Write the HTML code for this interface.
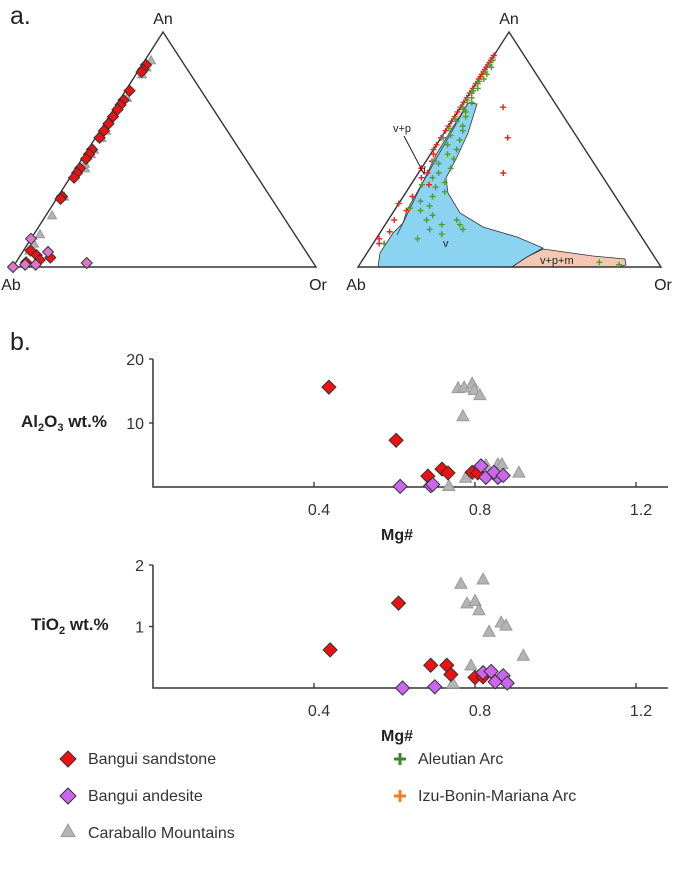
<!DOCTYPE html>
<html><head><meta charset="utf-8"><style>
html,body{margin:0;padding:0;background:#fff;}
svg{display:block;font-family:"Liberation Sans",Arial,sans-serif;}
</style></head><body>
<svg id="fig" width="685" height="873" viewBox="0 0 685 873">
<g id="ternA"></g>
<g id="ternB"></g>
<g id="sc1"></g>
<g id="sc2"></g>
<text x="10" y="24" font-size="25" fill="#222">a.</text>
<text x="10" y="350" font-size="25" fill="#222">b.</text>
<text x="21" y="427" font-size="17" font-weight="bold" fill="#222">Al<tspan font-size="11" dy="4">2</tspan><tspan dy="-4">O</tspan><tspan font-size="11" dy="4">3</tspan><tspan dy="-4"> wt.%</tspan></text>
<text x="31" y="630" font-size="17" font-weight="bold" fill="#222">TiO<tspan font-size="11" dy="4">2</tspan><tspan dy="-4"> wt.%</tspan></text>
<g id="legend"></g>
</svg>
<script>
// ---------- data ----------
// Left ternary (fractions An, Or)
const sandAn=[0.86,0.84,0.83,0.75,0.71,0.69,0.67,0.64,0.61,0.58,0.55,0.50,0.48,0.46,0.42,0.40,0.38,0.30,0.29,0.07,0.05,0.04,0.03,0.02];
const sandOr=[0.01,0.01,0.01,0.01,0.01,0.01,0.01,0.01,0.01,0.01,0.01,0.01,0.01,0.01,0.01,0.01,0.01,0.01,0.01,0.02,0.05,0.10,0.07,0.03];
const andAn=[0.017,0.064,0.12,0.0,0.01,0.01];
const andOr=[0.235,0.084,0.0,0.0,0.035,0.07];
const carAn=[0.88,0.85,0.82,0.72,0.58,0.55,0.50,0.48,0.44,0.42,0.30,0.22,0.14,0.10,0.07];
const carOr=[0.01,0.01,0.01,0.01,0.01,0.01,0.01,0.01,0.01,0.02,0.01,0.01,0.01,0.01,0.01];
// Right ternary crosses
const aleAn=[0.88,0.86,0.85,0.83,0.82,0.80,0.79,0.78,0.76,0.75,0.74,0.72,0.71,0.70,0.68,0.67,0.66,0.64,0.63,0.62,0.60,0.59,0.58,0.56,0.55,0.54,0.52,0.50,0.48,0.46,0.44,0.42,0.40,0.38,0.36,0.34,0.32,0.30,0.28,0.26,0.24,0.22,0.20,0.18,0.16,0.14,0.12,0.10,0.20,0.18,0.16,0.02,0.01,0.45,0.35,0.25];
const aleOr=[0.0,0.0,0.01,0.0,0.01,0.01,0.0,0.0,0.01,0.0,0.0,0.01,0.0,0.02,0.0,0.01,0.02,0.03,0.0,0.01,0.04,0.0,0.05,0.02,0.0,0.06,0.03,0.07,0.05,0.08,0.04,0.09,0.06,0.05,0.10,0.08,0.12,0.09,0.06,0.10,0.08,0.13,0.12,0.18,0.15,0.20,0.13,0.03,0.22,0.24,0.26,0.78,0.85,0.02,0.03,0.04];
const ibmAn=[0.90,0.89,0.88,0.87,0.86,0.85,0.84,0.83,0.82,0.81,0.80,0.78,0.76,0.74,0.72,0.70,0.68,0.66,0.64,0.62,0.60,0.58,0.55,0.52,0.50,0.48,0.45,0.42,0.40,0.38,0.35,0.30,0.27,0.24,0.20,0.15,0.12,0.10,0.68,0.55,0.40];
const ibmOr=[0.0,0.0,0.0,0.0,0.0,0.0,0.0,0.0,0.0,0.0,0.0,0.0,0.0,0.0,0.0,0.0,0.0,0.0,0.0,0.0,0.0,0.0,0.0,0.0,0.0,0.01,0.02,0.0,0.03,0.02,0.06,0.03,0.0,0.04,0.02,0.03,0.01,0.02,0.14,0.22,0.28];
// Scatter: Mg#, Al2O3, TiO2
const xTicks=[0.4,0.8,1.2];
const alTicks=[10,20];
const tiTicks=[1,2];
const sandMg=[0.437,0.604,0.683,0.718,0.733,0.793,0.807];
const sandAl=[15.6,7.3,1.7,2.8,2.2,2.3,2.2];
const sandMgT=[0.44,0.61,0.69,0.73,0.74,0.80,0.82];
const sandTi=[0.62,1.38,0.37,0.37,0.22,0.17,0.18];
const andMg=[0.614,0.69,0.695,0.827,0.857,0.815,0.847,0.87];
const andAl=[0.1,0.2,0.4,1.5,1.5,3.3,2.3,1.8];
const andMgT=[0.62,0.70,0.82,0.84,0.87,0.88,0.85];
const andTi=[0.0,0.02,0.25,0.27,0.2,0.08,0.1];
const carMg=[0.758,0.773,0.793,0.798,0.812,0.77,0.735,0.777,0.827,0.857,0.867,0.909];
const carAl=[15.5,15.6,16.2,15.2,14.4,11.1,0.2,1.5,3.5,3.6,3.6,2.3];
const carMgT=[0.765,0.82,0.78,0.80,0.81,0.865,0.877,0.835,0.92,0.79,0.745];
const carTi=[1.7,1.77,1.38,1.42,1.27,1.07,1.02,0.92,0.53,0.37,0.08];

const NS="http://www.w3.org/2000/svg";
function mk(tag,attrs,parent){const e=document.createElementNS(NS,tag);for(const k in attrs)e.setAttribute(k,attrs[k]);parent.appendChild(e);return e;}
function diamond(g,x,y,fill,s){return mk('path',{d:`M${x} ${y-s}L${x+s} ${y}L${x} ${y+s}L${x-s} ${y}Z`,fill:fill,stroke:'#333','stroke-width':1},g);}
function tri(g,x,y,s){return mk('path',{d:`M${x} ${y-s}L${x+s} ${y+s*0.8}L${x-s} ${y+s*0.8}Z`,fill:'#b4b4b4',stroke:'#999','stroke-width':1},g);}
function cross(g,x,y,c,s){return mk('path',{d:`M${x-s} ${y}H${x+s}M${x} ${y-s}V${y+s}`,stroke:c,'stroke-width':1.4},g);}

function ternary(g,ab,or,an){
  return (a,o)=>{const b=1-a-o;return [ab[0]*b+or[0]*o+an[0]*a, ab[1]*b+or[1]*o+an[1]*a];};
}
function ternFrame(g,ab,or,an){
  const t=mk('path',{d:`M${ab[0]} ${ab[1]}L${or[0]} ${or[1]}L${an[0]} ${an[1]}Z`,fill:'none',stroke:'#333','stroke-width':1.4},g);
  
  let e=mk('text',{x:an[0],y:an[1]-8,'text-anchor':'middle','font-size':16,fill:'#222'},g);e.textContent='An';
  
  e=mk('text',{x:ab[0]-2,y:ab[1]+23,'text-anchor':'middle','font-size':16,fill:'#222'},g);e.textContent='Ab';
  
  e=mk('text',{x:or[0]+2,y:or[1]+23,'text-anchor':'middle','font-size':16,fill:'#222'},g);e.textContent='Or';
  
}
// Left ternary
(function(){
  const g=document.getElementById('ternA');
  const ab=[13,267],or=[316,267],an=[163,32];
  ternFrame(g,ab,or,an);
  const P=ternary(g,ab,or,an);
  carAn.forEach((a,i)=>{const[p,q]=P(a,carOr[i]);const e=tri(g,p+3,q,4.5);});
  sandAn.forEach((a,i)=>{const[p,q]=P(a,sandOr[i]);const e=diamond(g,p+1,q,'#ee1111',5.5);});
  andAn.forEach((a,i)=>{const[p,q]=P(a,andOr[i]);const e=diamond(g,p,q,'#dd77cc',5.5);});
})();
// Right ternary
(function(){
  const g=document.getElementById('ternB');
  const ab=[358,267],or=[661,267],an=[509,32];
  let f=mk('path',{d:'M468 103L477 104L468 133L457 157L446 178L448 193L460 213L483 227L517 237L543 248L527 257L512 267L378 267L380 253L393 233L403 223L407 210L423 182L437 153L453 127Z',fill:'#8ad4f2',stroke:'#333','stroke-width':0.8},g);
  
  f=mk('path',{d:'M512 267L527 257L543 249L593 256L625 259L626 265L618 267Z',fill:'#f6c8b4',stroke:'#333','stroke-width':0.8},g);
  
  f=mk('path',{d:'M468 103L423 182L403 223L397 235',fill:'none',stroke:'#333','stroke-width':0.8},g);
  
  ternFrame(g,ab,or,an);
  const P=ternary(g,ab,or,an);
  ibmAn.forEach((a,i)=>{const[p,q]=P(a,ibmOr[i]);const e=cross(g,p,q,'#ee2222',3);});
  aleAn.forEach((a,i)=>{const[p,q]=P(a,aleOr[i]);const e=cross(g,p+2,q,'#559933',3);});
  let t=mk('text',{x:443,y:247,'font-size':11,fill:'#222'},g);t.textContent='v';
  t=mk('text',{x:540,y:264,'font-size':11,fill:'#222'},g);t.textContent='v+p+m';
  t=mk('text',{x:393,y:132,'font-size':11,fill:'#222'},g);t.textContent='v+p';
  const a=mk('path',{d:'M404 136L424 174M420 167L424 174L425 166',fill:'none',stroke:'#222','stroke-width':1},g);
  
})();
// Scatter plots
function scatter(gid,y0,yTop,yMax,yT,sx,sy,ax,ay,cx,cy){
  const g=document.getElementById(gid);
  const X=v=>153+v/1.2*483, Y=v=>y0-(y0-yTop)*v/yMax;
  let e=mk('path',{d:`M153 ${yTop}V${y0}H668`,fill:'none',stroke:'#333','stroke-width':1.5},g);
  
  yT.forEach(v=>{const y=Y(v);mk('path',{d:`M149 ${y}H153`,stroke:'#333','stroke-width':1.3},g);
    const t=mk('text',{x:144,y:y+6,'text-anchor':'end','font-size':16,fill:'#333'},g);t.textContent=v;
    });
  xTicks.forEach(v=>{const x=X(v);mk('path',{d:`M${x} ${y0}V${y0-5}`,stroke:'#333','stroke-width':1.3},g);
    const t=mk('text',{x:x+5,y:y0+28,'text-anchor':'middle','font-size':16,fill:'#333'},g);t.textContent=v;
    });
  const t=mk('text',{x:397,y:y0+53,'text-anchor':'middle','font-size':16,'font-weight':'bold',fill:'#222'},g);t.textContent='Mg#';
  
  cx.forEach((v,i)=>{const e=tri(g,X(v),Y(cy[i]),6);});
  sx.forEach((v,i)=>{const e=diamond(g,X(v),Y(sy[i]),'#ee1111',7);});
  ax.forEach((v,i)=>{const e=diamond(g,X(v),Y(ay[i]),'#cc66ee',7);});
}
scatter('sc1',487,359,20,alTicks,sandMg,sandAl,andMg,andAl,carMg,carAl);
scatter('sc2',688,565,2,tiTicks,sandMgT,sandTi,andMgT,andTi,carMgT,carTi);
// Legend
(function(){
  const g=document.getElementById('legend');
  let e=diamond(g,68,759,'#ee1111',8);
  e=diamond(g,68,796,'#cc66ee',8);
  e=tri(g,68,831,7);
  e=mk('path',{d:'M394 759H406M400 753V765',stroke:'#3a8a2a','stroke-width':3},g);
  e=mk('path',{d:'M394 796H406M400 790V802',stroke:'#f08020','stroke-width':3},g);
  const items=[[88,764,'Bangui sandstone','legend-sandstone'],[88,801,'Bangui andesite','legend-andesite'],[88,838,'Caraballo Mountains','legend-caraballo'],[418,764,'Aleutian Arc','legend-aleutian'],[418,801,'Izu-Bonin-Mariana Arc','legend-ibm']];
  items.forEach(it=>{const t=mk('text',{x:it[0],y:it[1],'font-size':16,fill:'#333'},g);t.textContent=it[2];
    });
})();
</script>
</body></html>
